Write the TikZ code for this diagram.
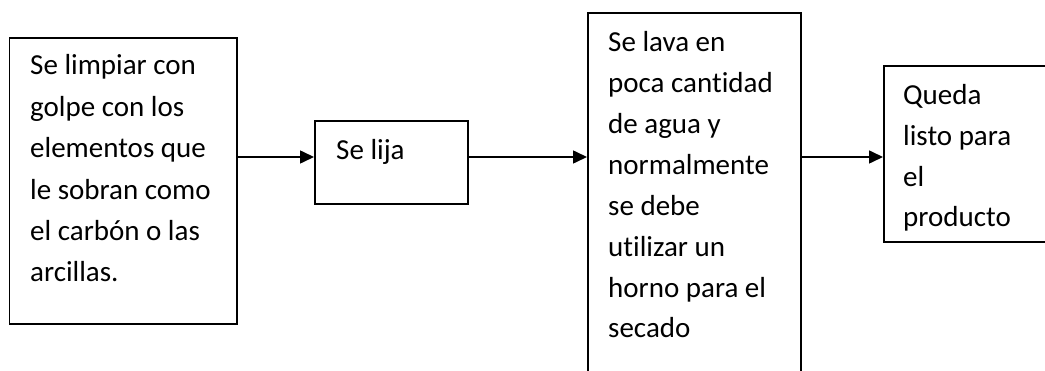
\documentclass[tikz,border=0pt]{standalone}
\usepackage{fontspec}
\setmainfont[Ligatures=NoCommon]{Carlito}
\usetikzlibrary{arrows.meta}
\begin{document}
\begin{tikzpicture}[x=1pt,y=-1pt,
  box/.style={draw=black,line width=1.7pt,fill=none,inner sep=0pt,anchor=north west},
  txt/.style={align=left,inner sep=0pt,anchor=base west},
  arr/.style={line width=1.6pt,-{Triangle[length=14pt,width=13pt]}}]
\useasboundingbox (0,0) rectangle (1045,371);
\clip (0,0) rectangle (1045,371);
\fill[white] (0,0) rectangle (1045,371);
% boxes
\node[box,minimum width=227.5pt,minimum height=286pt] (b1) at (8.5,37) {};
\node[box,minimum width=153pt,minimum height=83pt] (b2) at (314,120) {};
\node[box,minimum width=213pt,minimum height=380pt] (b3) at (587,12) {};
\node[box,minimum width=180pt,minimum height=176pt] (b4) at (883,65) {};
% texts (anchored at the baseline of the last line)
\node[txt,font=\fontsize{29}{41.4}\selectfont] (t1) at (30,282) {Se limpiar con\\golpe con los\\elementos que\\le sobran como\\el carbón o las\\arcillas.};
\node[txt,font=\fontsize{29}{41}\selectfont] (t2) at (336,160) {Se lija};
\node[txt,font=\fontsize{29}{40.9}\selectfont] (t3) at (608,338) {Se lava en\\poca cantidad\\de agua y\\normalmente\\se debe\\utilizar un\\horno para el\\secado};
\begin{scope}
\clip (884,66) rectangle (1045,231);
\node[txt,font=\fontsize{29}{40.7}\selectfont] (t4) at (903,227) {Queda\\listo para\\el\\producto};
\end{scope}
% arrows
\coordinate (ay) at (0,157);
\draw[arr] (b1.east |- ay) -- (b2.west |- ay);
\draw[arr] (b2.east |- ay) -- (b3.west |- ay);
\draw[arr] (b3.east |- ay) -- (b4.west |- ay);
\end{tikzpicture}
\end{document}
